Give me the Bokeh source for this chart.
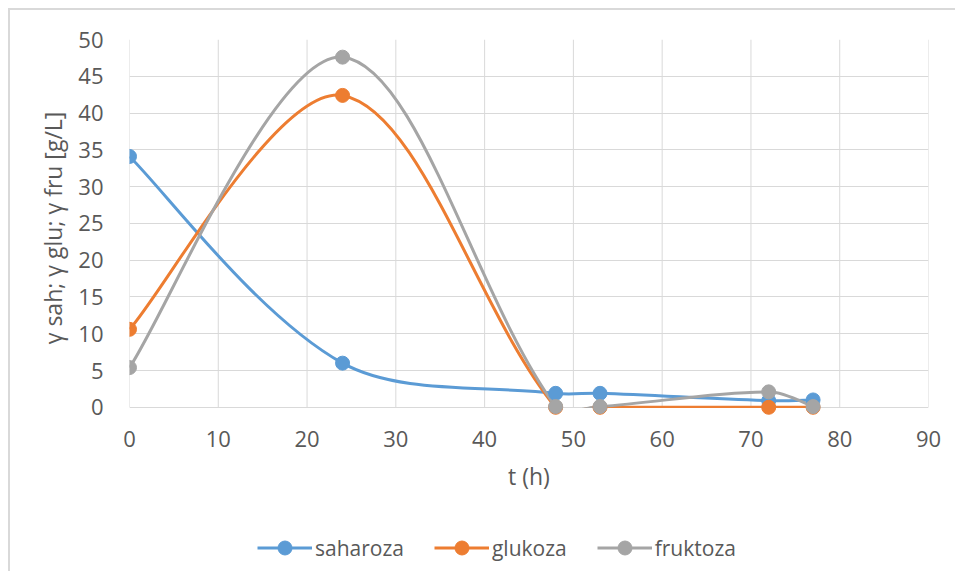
import math
from bokeh.plotting import figure
from bokeh.layouts import column
from bokeh.models import Range1d, FixedTicker, Legend, LegendItem
from bokeh.embed import file_html
from bokeh.resources import INLINE

# ---- data ----
t_hours = [0, 24, 48, 53, 72, 77]
saharoza = [34.1, 6.0, 1.9, 1.9, 0.9, 1.0]
glukoza = [10.6, 42.4, 0.0, 0.0, 0.0, 0.0]
fruktoza = [5.4, 47.6, 0.1, 0.1, 2.1, 0.1]
series_names = ["saharoza", "glukoza", "fruktoza"]
x_ticks = [0, 10, 20, 30, 40, 50, 60, 70, 80, 90]
y_ticks = [0, 5, 10, 15, 20, 25, 30, 35, 40, 45, 50]
x_min, x_max = 0, 90
y_min, y_max = 0, 50

colors = ["#5B9BD5", "#ED7D31", "#A5A5A5"]
FONT = "Open Sans"
TXT = "#595959"
GRID = "#D9D9D9"
Y_PAD = 1.25  # room below 0 so markers on the axis are not cut


def smooth_segments(xs, ys):
    """Excel-like smoothed line: cubic Bezier segments, tangents scaled by chord lengths."""
    n = len(xs)

    def d(i, j):
        return math.hypot(xs[j] - xs[i], ys[j] - ys[i])

    seg = dict(x0=[], y0=[], x1=[], y1=[], cx0=[], cy0=[], cx1=[], cy1=[])
    for i in range(n - 1):
        a, b = i, i + 1
        if a == 0:
            ox, oy = (xs[b] - xs[a]) / 6.0, (ys[b] - ys[a]) / 6.0
        else:
            w = d(a, b) / (d(a - 1, a) + d(a, b)) / 3.0
            ox, oy = (xs[b] - xs[a - 1]) * w, (ys[b] - ys[a - 1]) * w
        if b == n - 1:
            ix, iy = (xs[b] - xs[a]) / 6.0, (ys[b] - ys[a]) / 6.0
        else:
            w = d(a, b) / (d(a, b) + d(b, b + 1)) / 3.0
            ix, iy = (xs[b + 1] - xs[a]) * w, (ys[b + 1] - ys[a]) * w
        seg["x0"].append(xs[a]); seg["y0"].append(ys[a])
        seg["x1"].append(xs[b]); seg["y1"].append(ys[b])
        seg["cx0"].append(xs[a] + ox); seg["cy0"].append(ys[a] + oy)
        seg["cx1"].append(xs[b] - ix); seg["cy1"].append(ys[b] - iy)
    return seg


p = figure(
    frame_width=799, frame_height=377,
    min_border_left=119, min_border_top=29, min_border_right=27, min_border_bottom=95,
    x_range=Range1d(x_min, x_max), y_range=Range1d(y_min - Y_PAD, y_max),
    output_backend="svg", toolbar_location=None,
)
p.outline_line_color = None
p.background_fill_color = "white"
p.border_fill_color = "white"

p.xaxis.ticker = FixedTicker(ticks=x_ticks)
p.yaxis.ticker = FixedTicker(ticks=y_ticks)
for ax in (p.xaxis[0], p.yaxis[0]):
    ax.axis_line_color = None
    ax.major_tick_line_color = None
    ax.minor_tick_line_color = None
    ax.major_label_text_font = FONT
    ax.major_label_text_font_size = "22px"
    ax.major_label_text_color = TXT
    ax.axis_label_text_font = FONT
    ax.axis_label_text_font_size = "23px"
    ax.axis_label_text_color = TXT
    ax.axis_label_text_font_style = "normal"
p.xaxis.major_label_standoff = 8
p.yaxis.major_label_standoff = 20
p.xaxis.axis_label = "t (h)"
p.yaxis.axis_label = "γ sah; γ glu; γ fru [g/L]"
p.xaxis.axis_label_standoff = 10
p.yaxis.axis_label_standoff = 6

p.ygrid.grid_line_color = GRID
p.ygrid.grid_line_width = 1
p.xgrid.grid_line_color = None
p.segment(x0=x_ticks, y0=[y_min] * len(x_ticks), x1=x_ticks, y1=[y_max] * len(x_ticks),
          line_color=GRID, line_width=1)

for ys, c in zip([saharoza, glukoza, fruktoza], colors):
    seg = smooth_segments(t_hours, ys)
    p.bezier(x0="x0", y0="y0", x1="x1", y1="y1", cx0="cx0", cy0="cy0",
             cx1="cx1", cy1="cy1", source=seg, line_color=c, line_width=3)

# mask smoothed overshoot below the 0 axis (Excel clips it at the plot area)
p.quad(left=[x_min - 5], right=[x_max + 5], bottom=[y_min - 4 * Y_PAD], top=[y_min - 0.08],
       fill_color="white", line_color=None)

for ys, c in zip([saharoza, glukoza, fruktoza], colors):
    p.scatter(t_hours, ys, size=14, marker="circle", fill_color=c, line_color=c)

# ---- legend strip below the chart (its frame aligns with the chart's frame) ----
pl = figure(frame_width=799, height=60, min_border_left=119, min_border_right=27,
            min_border_top=0, min_border_bottom=0,
            x_range=Range1d(-2, -1), y_range=Range1d(-2, -1),  # series kept off-view here
            output_backend="svg", toolbar_location=None)
pl.axis.visible = False
pl.grid.grid_line_color = None
pl.outline_line_color = None
pl.background_fill_color = "white"
pl.border_fill_color = "white"

items = []
for name, ys, c in zip(series_names, [saharoza, glukoza, fruktoza], colors):
    r_l = pl.line(x=t_hours, y=ys, line_color=c, line_width=3)
    r_s = pl.scatter(x=t_hours, y=ys, size=14, marker="circle", fill_color=c, line_color=c)
    items.append(LegendItem(label=name, renderers=[r_l, r_s]))

legend = Legend(items=items, orientation="horizontal", location=(128, 6))
legend.label_text_font = FONT
legend.label_text_font_size = "21px"
legend.label_text_color = TXT
legend.glyph_width = 55
legend.glyph_height = 35
legend.label_standoff = 3
legend.spacing = 30
legend.padding = 0
legend.margin = 0
legend.border_line_color = None
legend.background_fill_alpha = 0
pl.add_layout(legend)

layout = column(p, pl, spacing=0)
layout.styles = {"margin-left": "8px", "margin-top": "8px",
                 "border-left": "2px solid #D9D9D9", "border-top": "2px solid #D9D9D9"}

open("out.html", "w").write(file_html(layout, INLINE))
